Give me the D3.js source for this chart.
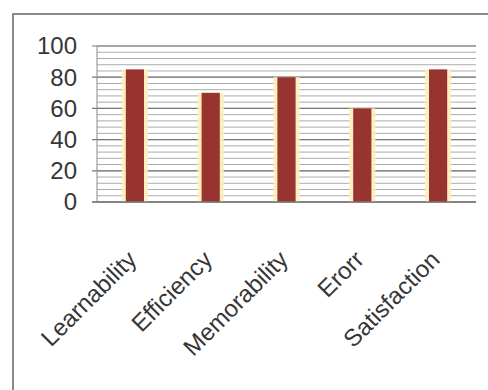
<!DOCTYPE html>
<html>
<head>
<meta charset="utf-8">
<script src="https://cdn.jsdelivr.net/npm/d3@7"></script>
<style>
  body { margin: 0; background: #fff; }
  text { font-family: "Liberation Sans", Arial, sans-serif; fill: #363636; }
</style>
</head>
<body>
<div id="chart"></div>
<script>
// usability scores
var categories = ["Learnability", "Efficiency", "Memorability", "Erorr", "Satisfaction"];
var scores = [85, 70, 80, 60, 85];
var yTicks = [0, 20, 40, 60, 80, 100];

const W = 488, H = 390;
const margin = {top: 46, right: 12, bottom: 188, left: 97},
    width = W - margin.left - margin.right,
    height = H - margin.top - margin.bottom;

const svg = d3.select("#chart")
  .append("svg")
    .attr("width", W)
    .attr("height", H);

// outer frame, cut off at the right and bottom like the picture
svg.append("rect")
  .attr("x", 13).attr("y", 14)
  .attr("width", W + 20).attr("height", H + 20)
  .attr("fill", "none")
  .attr("stroke", "#8a8a8a")
  .attr("stroke-width", 2);

const g = svg.append("g")
  .attr("transform", `translate(${margin.left},${margin.top})`);

const x = d3.scaleBand()
  .domain(categories)
  .range([0, width])
  .paddingInner(0.76)
  .paddingOuter(0.38);

const y = d3.scaleLinear()
  .domain([0, 100])
  .range([height, 0]);

// minor gridlines every 4
g.append("g")
  .selectAll("line")
  .data(d3.range(0, 101, 4))
  .join("line")
    .attr("x1", 0).attr("x2", width)
    .attr("y1", d => y(d)).attr("y2", d => y(d))
    .attr("stroke", "#ababab")
    .attr("stroke-width", 1);

// major gridlines
g.append("g")
  .selectAll("line")
  .data(yTicks)
  .join("line")
    .attr("x1", -5).attr("x2", width)
    .attr("y1", d => y(d)).attr("y2", d => y(d))
    .attr("stroke", "#777")
    .attr("stroke-width", 1.2);

// y axis line
g.append("line")
  .attr("x1", 0).attr("x2", 0)
  .attr("y1", 0).attr("y2", height)
  .attr("stroke", "#8a8a8a");

// y labels
g.append("g")
  .selectAll("text")
  .data(yTicks)
  .join("text")
    .attr("x", -20)
    .attr("y", d => y(d))
    .attr("dy", "0.35em")
    .attr("text-anchor", "end")
    .style("font-size", "24px")
    .text(d => d);

// yellow glow behind bars
g.append("g")
  .selectAll("rect")
  .data(scores)
  .join("rect")
    .attr("x", (d, i) => x(categories[i]) - 4)
    .attr("y", d => y(d))
    .attr("width", x.bandwidth() + 8)
    .attr("height", d => height - y(d))
    .attr("fill", "#ffeebb")
    .attr("opacity", 0.9);

// bars
g.append("g")
  .selectAll("rect")
  .data(scores)
  .join("rect")
    .attr("x", (d, i) => x(categories[i]))
    .attr("y", d => y(d))
    .attr("width", x.bandwidth())
    .attr("height", d => height - y(d))
    .attr("fill", "#983430");

// bottom axis line
g.append("line")
  .attr("x1", -5).attr("x2", width)
  .attr("y1", height).attr("y2", height)
  .attr("stroke", "#7a7a7a")
  .attr("stroke-width", 1.5);

// rotated category labels
g.append("g")
  .selectAll("text")
  .data(categories)
  .join("text")
    .attr("transform", d => `translate(${x(d) + x.bandwidth() / 2 + 3},${height + 59}) rotate(-45)`)
    .attr("text-anchor", "end")
    .style("font-size", "24px")
    .text(d => d);
</script>
</body>
</html>
